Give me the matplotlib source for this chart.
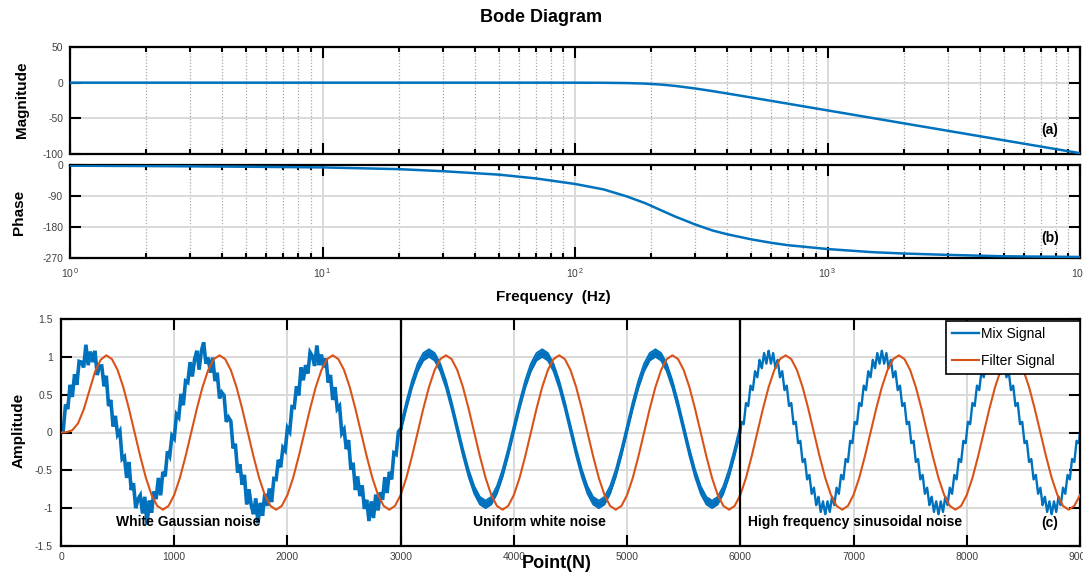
import numpy as np
import matplotlib
matplotlib.use('Agg')
import matplotlib.pyplot as plt
from matplotlib.ticker import FixedLocator, NullFormatter

# ---------------- Bode data ----------------
freq_hz = [1, 2, 5, 10, 20, 30, 50, 70, 100, 130, 160, 190, 220, 250, 300, 350,
           400, 500, 600, 700, 800, 1000, 1500, 2000, 3000, 5000, 7000, 10000]
magnitude_db = [0, 0, 0, 0, 0, 0, 0, 0, -0.03, -0.16, -0.53, -1.34, -2.73, -4.60,
                -8.21, -11.81, -15.13, -20.84, -25.57, -29.58, -33.06, -38.87,
                -49.43, -56.93, -67.49, -80.81, -89.57, -98.87]
phase_deg = [-2, -3, -5, -7, -12, -18, -28, -39, -55, -71, -91, -111, -132, -150,
             -173, -190, -201, -216, -226, -233, -237, -244, -253, -257, -261,
             -265, -266, -267]
mag_ticks = [-100, -50, 0, 50]
phase_ticks = [-270, -180, -90, 0]
freq_tick_labels = [r'$10^{\,0}$', r'$10^{\,1}$', r'$10^{\,2}$', r'$10^{\,3}$', r'$10^{\,4}$']

# ---------------- Time-domain data ----------------
# Mix signal, white Gaussian noise part (points 0..3000, every 20 points)
mix_gaussian = [
    0.05, 0.03, 0.37, 0.31, 0.63, 0.47, 0.77, 0.63, 0.94, 0.93,
    0.86, 1.16, 0.89, 1.07, 0.93, 1.08, 0.76, 0.88, 0.88, 0.61,
    0.75, 0.35, 0.43, 0.08, 0.22, -0.03, 0.02, -0.35, -0.32, -0.60,
    -0.39, -0.76, -0.67, -1.00, -0.88, -0.83, -1.07, -0.85, -1.22, -0.90,
    -1.06, -0.78, -0.88, -0.60, -0.83, -0.52, -0.58, -0.25, -0.31, -0.04,
    -0.08, 0.24, 0.20, 0.51, 0.36, 0.68, 0.66, 0.93, 0.74, 0.97,
    1.08, 0.83, 1.08, 1.19, 0.91, 0.99, 0.79, 0.99, 0.68, 0.79,
    0.45, 0.53, 0.49, 0.14, 0.20, 0.15, -0.21, -0.15, -0.53, -0.42,
    -0.69, -0.56, -0.95, -0.75, -0.96, -1.08, -0.87, -1.20, -0.93, -1.10,
    -0.81, -0.97, -0.74, -0.92, -0.61, -0.62, -0.36, -0.46, -0.20, -0.24,
    0.06, 0.01, 0.34, 0.33, 0.61, 0.49, 0.86, 0.69, 0.89, 0.78,
    1.06, 1.01, 0.88, 1.15, 0.89, 1.03, 0.86, 0.98, 0.66, 0.76,
    0.43, 0.60, 0.31, 0.35, -0.01, 0.04, -0.22, -0.10, -0.49, -0.40,
    -0.76, -0.58, -0.84, -0.70, -1.01, -0.89, -1.17, -0.91, -1.13, -0.82,
    -1.03, -0.79, -0.89, -0.59, -0.80, -0.52, -0.62, -0.27, -0.29, 0.01,
    0.05]

# Mix signal, uniform white noise part (points 3000..6000, every 50 points): band low/high
mix_uniform_low = [
    0, 0.309, 0.588, 0.809, 0.951, 1.0, 0.951, 0.809, 0.588, 0.309,
    0, -0.309, -0.588, -0.809, -0.951, -1.0, -0.951, -0.809, -0.588, -0.309,
    0, 0.309, 0.588, 0.809, 0.951, 1.0, 0.951, 0.809, 0.588, 0.309,
    0, -0.309, -0.588, -0.809, -0.951, -1.0, -0.951, -0.809, -0.588, -0.309,
    0, 0.309, 0.588, 0.809, 0.951, 1.0, 0.951, 0.809, 0.588, 0.309,
    0, -0.309, -0.588, -0.809, -0.951, -1.0, -0.951, -0.809, -0.588, -0.309,
    0]
mix_uniform_high = [
    0.1, 0.409, 0.688, 0.909, 1.051, 1.1, 1.051, 0.909, 0.688, 0.409,
    0.1, -0.209, -0.488, -0.709, -0.851, -0.9, -0.851, -0.709, -0.488, -0.209,
    0.1, 0.409, 0.688, 0.909, 1.051, 1.1, 1.051, 0.909, 0.688, 0.409,
    0.1, -0.209, -0.488, -0.709, -0.851, -0.9, -0.851, -0.709, -0.488, -0.209,
    0.1, 0.409, 0.688, 0.909, 1.051, 1.1, 1.051, 0.909, 0.688, 0.409,
    0.1, -0.209, -0.488, -0.709, -0.851, -0.9, -0.851, -0.709, -0.488, -0.209,
    0.1]

# Mix signal, high-frequency sinusoidal noise part (points 6000..9000, every 10 points)
mix_sinusoidal = [
    0, .14, .13, .11, .25, .39, .37, .35, .48, .62,
    .59, .56, .68, .81, .77, .73, .84, .96, .90, .85,
    .95, 1.05, .98, .91, 1.00, 1.08, 1.00, .91, .98, 1.05,
    .95, .85, .90, .96, .84, .73, .77, .81, .68, .56,
    .59, .62, .48, .35, .37, .39, .25, .11, .13, .14,
    0, -.14, -.13, -.11, -.25, -.39, -.37, -.35, -.48, -.62,
    -.59, -.56, -.68, -.81, -.77, -.73, -.84, -.96, -.90, -.85,
    -.95, -1.05, -.98, -.91, -1.00, -1.08, -1.00, -.91, -.98, -1.05,
    -.95, -.85, -.90, -.96, -.84, -.73, -.77, -.81, -.68, -.56,
    -.59, -.62, -.48, -.35, -.37, -.39, -.25, -.11, -.13, -.14,
    0, .14, .13, .11, .25, .39, .37, .35, .48, .62,
    .59, .56, .68, .81, .77, .73, .84, .96, .90, .85,
    .95, 1.05, .98, .91, 1.00, 1.08, 1.00, .91, .98, 1.05,
    .95, .85, .90, .96, .84, .73, .77, .81, .68, .56,
    .59, .62, .48, .35, .37, .39, .25, .11, .13, .14,
    0, -.14, -.13, -.11, -.25, -.39, -.37, -.35, -.48, -.62,
    -.59, -.56, -.68, -.81, -.77, -.73, -.84, -.96, -.90, -.85,
    -.95, -1.05, -.98, -.91, -1.00, -1.08, -1.00, -.91, -.98, -1.05,
    -.95, -.85, -.90, -.96, -.84, -.73, -.77, -.81, -.68, -.56,
    -.59, -.62, -.48, -.35, -.37, -.39, -.25, -.11, -.13, -.14,
    0, .14, .13, .11, .25, .39, .37, .35, .48, .62,
    .59, .56, .68, .81, .77, .73, .84, .96, .90, .85,
    .95, 1.05, .98, .91, 1.00, 1.08, 1.00, .91, .98, 1.05,
    .95, .85, .90, .96, .84, .73, .77, .81, .68, .56,
    .59, .62, .48, .35, .37, .39, .25, .11, .13, .14,
    0, -.14, -.13, -.11, -.25, -.39, -.37, -.35, -.48, -.62,
    -.59, -.56, -.68, -.81, -.77, -.73, -.84, -.96, -.90, -.85,
    -.95, -1.05, -.98, -.91, -1.00, -1.08, -1.00, -.91, -.98, -1.05,
    -.95, -.85, -.90, -.96, -.84, -.73, -.77, -.81, -.68, -.56,
    -.59, -.62, -.48, -.35, -.37, -.39, -.25, -.11, -.13, -.14,
    0]

# Filter output (points 0..9000, every 50 points)
filter_signal = [
    0, 0.005, 0.03, 0.12, 0.30, 0.55, 0.80, 0.96, 1.02, 0.97,
    0.825, 0.60, 0.315, 0, -0.315, -0.60, -0.825, -0.97, -1.02, -0.97,
    -0.825, -0.60, -0.315, 0, 0.315, 0.60, 0.825, 0.97, 1.02, 0.97,
    0.825, 0.60, 0.315, 0, -0.315, -0.60, -0.825, -0.97, -1.02, -0.97,
    -0.825, -0.60, -0.315, 0, 0.315, 0.60, 0.825, 0.97, 1.02, 0.97,
    0.825, 0.60, 0.315, 0, -0.315, -0.60, -0.825, -0.97, -1.02, -0.97,
    -0.825, -0.60, -0.315, 0, 0.315, 0.60, 0.825, 0.97, 1.02, 0.97,
    0.825, 0.60, 0.315, 0, -0.315, -0.60, -0.825, -0.97, -1.02, -0.97,
    -0.825, -0.60, -0.315, 0, 0.315, 0.60, 0.825, 0.97, 1.02, 0.97,
    0.825, 0.60, 0.315, 0, -0.315, -0.60, -0.825, -0.97, -1.02, -0.97,
    -0.825, -0.60, -0.315, 0, 0.315, 0.60, 0.825, 0.97, 1.02, 0.97,
    0.825, 0.60, 0.315, 0, -0.315, -0.60, -0.825, -0.97, -1.02, -0.97,
    -0.825, -0.60, -0.315, 0, 0.315, 0.60, 0.825, 0.97, 1.02, 0.97,
    0.825, 0.60, 0.315, 0, -0.315, -0.60, -0.825, -0.97, -1.02, -0.97,
    -0.825, -0.60, -0.315, 0, 0.315, 0.60, 0.825, 0.97, 1.02, 0.97,
    0.825, 0.60, 0.315, 0, -0.315, -0.60, -0.825, -0.97, -1.02, -0.97,
    -0.825, -0.60, -0.315, 0, 0.315, 0.60, 0.825, 0.97, 1.02, 0.97,
    0.825, 0.60, 0.315, 0, -0.315, -0.60, -0.825, -0.97, -1.02, -0.97,
    -0.825]

segment_bounds = [0, 3000, 6000, 9000]
segment_names = ['White Gaussian noise', 'Uniform white noise', 'High frequency sinusoidal noise']
amp_ticks = [-1.5, -1, -0.5, 0, 0.5, 1, 1.5]
amp_tick_labels = ['-1.5', '-1', '-0.5', '0', '0.5', '1', '1.5']
point_ticks = [0, 1000, 2000, 3000, 4000, 5000, 6000, 7000, 8000, 9000]
series_names = ['Mix Signal', 'Filter Signal']

# ---------------- Style ----------------
plt.rcParams['font.family'] = ['Liberation Sans', 'DejaVu Sans']
plt.rcParams['mathtext.default'] = 'regular'

BLUE = '#0072BD'
ORANGE = '#D95319'
GRID = '#d9d9d9'
TICKC = '#404040'

W, H = 1083, 573
fig = plt.figure(figsize=(W / 100, H / 100), dpi=100)


def fx(px):
    return px / W


def fy(py):
    return 1 - py / H


ax_mag = fig.add_axes([fx(70), fy(154), fx(1080) - fx(70), fy(47) - fy(154)])
ax_ph = fig.add_axes([fx(70), fy(258), fx(1080) - fx(70), fy(165) - fy(258)])
ax_t = fig.add_axes([fx(61), fy(546), fx(1080) - fx(61), fy(319) - fy(546)])

minor_pos = [m * 10 ** d for d in range(4) for m in range(2, 10)]
for ax in (ax_mag, ax_ph):
    ax.set_xscale('log')
    ax.set_xlim(1, 1e4)
    ax.xaxis.set_major_locator(FixedLocator([1, 10, 100, 1000, 10000]))
    ax.xaxis.set_minor_locator(FixedLocator(minor_pos))
    ax.xaxis.set_minor_formatter(NullFormatter())
    ax.set_axisbelow(True)
    ax.grid(True, which='major', axis='both', color=GRID, lw=1.4, ls='-')
    ax.grid(True, which='minor', axis='x', color='#a8a8a8', lw=0.9, ls=(0, (1, 1.5)))
    ax.tick_params(which='both', direction='in', top=True, right=True,
                   color='black', labelcolor=TICKC, labelsize=7.5)
    ax.tick_params(which='major', length=8, width=1.5, pad=5)
    ax.tick_params(which='minor', length=3.5, width=1.5)
    for s in ax.spines.values():
        s.set_linewidth(1.6)

ax_mag.plot(freq_hz, magnitude_db, color=BLUE, lw=1.8, zorder=3)
ax_mag.set_ylim(-100, 50)
ax_mag.set_yticks(mag_ticks)
ax_mag.set_yticklabels([str(v) for v in mag_ticks])
ax_mag.tick_params(labelbottom=False)

ax_ph.plot(freq_hz, phase_deg, color=BLUE, lw=1.8, zorder=3)
ax_ph.set_ylim(-270, 0)
ax_ph.set_yticks(phase_ticks)
ax_ph.set_yticklabels([str(v) for v in phase_ticks])
ax_ph.set_xticklabels(freq_tick_labels)
ax_ph.tick_params(axis='x', which='major', pad=6)

ax_mag.text(0.970, 0.225, '(a)', transform=ax_mag.transAxes, ha='center', va='center',
            fontsize=10, fontweight='bold')
ax_ph.text(0.970, 0.215, '(b)', transform=ax_ph.transAxes, ha='center', va='center',
           fontsize=10, fontweight='bold')

fig.text(fx(541), fy(18), 'Bode Diagram', ha='center', va='center', fontsize=13, fontweight='bold')
fig.text(fx(553), fy(297), 'Frequency  (Hz)', ha='center', va='center', fontsize=11, fontweight='bold')
fig.text(fx(22), fy(100), 'Magnitude', ha='center', va='center', rotation=90, fontsize=11, fontweight='bold')
fig.text(fx(19), fy(212), 'Phase', ha='center', va='center', rotation=90, fontsize=11, fontweight='bold')

# ---------------- Time-domain plot ----------------
x_g = np.linspace(segment_bounds[0], segment_bounds[1], len(mix_gaussian))
x_u = np.linspace(segment_bounds[1], segment_bounds[2], len(mix_uniform_low))
x_s = np.linspace(segment_bounds[2], segment_bounds[3], len(mix_sinusoidal))
x_f = np.linspace(segment_bounds[0], segment_bounds[3], len(filter_signal))

ax_t.set_axisbelow(True)
ax_t.grid(True, color=GRID, lw=1.4)
ax_t.plot(x_g, mix_gaussian, color=BLUE, lw=2.6, zorder=2, solid_joinstyle='miter',
          label=series_names[0])
ax_t.fill_between(x_u, mix_uniform_low, mix_uniform_high, color=BLUE, lw=0, zorder=2)
ax_t.plot(x_u, mix_uniform_low, color=BLUE, lw=1.3, zorder=2)
ax_t.plot(x_u, mix_uniform_high, color=BLUE, lw=1.3, zorder=2)
ax_t.plot(x_s, mix_sinusoidal, color=BLUE, lw=1.7, zorder=2)
ax_t.plot(x_f, filter_signal, color=ORANGE, lw=1.5, zorder=3, label=series_names[1])

for b in segment_bounds[1:3]:
    ax_t.axvline(b, color='black', lw=1.6, zorder=4)

ax_t.set_xlim(0, 9000)
ax_t.set_ylim(-1.5, 1.5)
ax_t.set_xticks(point_ticks)
ax_t.set_xticklabels([str(v) for v in point_ticks])
ax_t.set_yticks(amp_ticks)
ax_t.set_yticklabels(amp_tick_labels)
ax_t.tick_params(which='both', direction='in', top=True, right=True,
                 color='black', labelcolor=TICKC, labelsize=7.5)
ax_t.tick_params(axis='y', length=8, width=1.5, pad=6)
ax_t.tick_params(axis='x', length=8, width=1.5, pad=4)
for s in ax_t.spines.values():
    s.set_linewidth(1.6)

label_x = [1126, 4230, 7013]
for xt, name in zip(label_x, segment_names):
    ax_t.text(xt, -1.18, name, ha='center', va='center', fontsize=10, fontweight='bold', zorder=6)
ax_t.text(8735, -1.19, '(c)', ha='center', va='center', fontsize=10, fontweight='bold', zorder=6)

leg = ax_t.legend(loc='upper left', bbox_to_anchor=(0.8685, 0.740, 0.1315, 0.251),
                  mode='expand', borderaxespad=0, fontsize=10, frameon=True,
                  fancybox=False, edgecolor='black', framealpha=1,
                  handlelength=1.9, handletextpad=0.15, labelspacing=0.9, borderpad=0.45)
leg.get_frame().set_linewidth(1.2)
leg.get_lines()[0].set_linewidth(1.7)
leg.set_zorder(10)

fig.text(fx(19), fy(430), 'Amplitude', ha='center', va='center', rotation=90, fontsize=11, fontweight='bold')
fig.text(fx(557), fy(563), 'Point(N)', ha='center', va='center', fontsize=13, fontweight='bold')

fig.savefig('out.png', dpi=100)
